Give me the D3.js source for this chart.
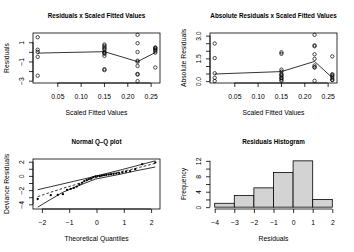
<!DOCTYPE html>
<html><head><meta charset="utf-8">
<script src="https://cdn.jsdelivr.net/npm/d3@7"></script>
<style>
body{margin:0;background:#fff}
svg{display:block}
text{font-family:"Liberation Sans",Arial,Helvetica,sans-serif;fill:#000}
</style>
</head><body><script>
// ---------- data ----------
const fittedClusters = [0.008, 0.151, 0.222, 0.260];
const residualsByCluster = [
  [1.52, 0.22, -0.01, -0.52, -2.48],
  [0.76, 0.63, 0.47, 0.35, 0.22, -0.02, -0.1, -0.2, -0.42, -1.8, -1.9],
  [1.77, 0.9, -0.02, -0.92, -1.03, -1.47, -2.3, -2.36, -3.05],
  [0.46, 0.4, 0.32, 0.2, 0.08, -0.08, -1.63]
];
const trendResiduals = [-0.13, 0.02, -1.02, -0.07];
const trendAbsResiduals = [0.47, 0.63, 1.3, 0.22];

const theoreticalQ = [-2.154,-1.676,-1.418,-1.230,-1.078,-0.947,-0.831,-0.725,-0.626,-0.534,-0.445,-0.360,-0.278,-0.197,-0.118,-0.039,
                      0.039,0.118,0.197,0.278,0.360,0.445,0.534,0.626,0.725,0.831,0.947,1.078,1.230,1.418,1.676,2.154];
const devianceResiduals = [-3.25,-2.72,-2.68,-2.58,-1.98,-1.84,-1.69,-1.5,-1.21,-0.98,-0.73,-0.56,-0.45,-0.35,-0.18,-0.08,
                           -0.04,-0.01,0.04,0.1,0.15,0.2,0.25,0.3,0.35,0.4,0.5,0.6,0.68,0.95,1.65,1.9];
const envelopeQ      = [-2.154,-1.676,-1.23,-0.831,-0.445,-0.039,0.445,0.947,1.418,2.154];
const envelopeLower  = [-4.4,-3.3,-2.3,-1.65,-1.05,-0.45,-0.08,0.3,0.7,1.25];
const envelopeMedian = [-2.92,-2.3,-1.75,-1.3,-0.8,-0.25,0.2,0.65,1.05,1.77];
const envelopeUpper  = [-1.94,-1.52,-1.12,-0.76,-0.42,-0.04,0.42,0.9,1.38,2.12];

const histBreaks = [-4,-3,-2,-1,0,1,2];
const histCounts = [1,3,5,9,12,2];

const fittedTicks = [0.05,0.10,0.15,0.20,0.25];
const fittedTickLabels = ["0.05","0.10","0.15","0.20","0.25"];
const resTicks = [-3,-2,-1,0,1];
const resTickLabels = ["\u22123","","\u22121","","1"];
const absTicks = [0,0.5,1,1.5,2,2.5,3];
const absTickLabels = ["0.0","","","1.5","","","3.0"];
const qTicks = [-2,-1,0,1,2];
const qTickLabels = ["\u22122","\u22121","0","1","2"];
const devTicks = [-4,-3,-2,-1,0,1,2];
const devTickLabels = ["\u22124","","\u22122","","0","","2"];
const histXTicks = [-4,-3,-2,-1,0,1,2];
const histXTickLabels = ["\u22124","\u22123","\u22122","\u22121","0","1","2"];
const freqTicks = [0,2,4,6,8,10,12];
const freqTickLabels = ["0","","4","","8","","12"];

// ---------- layout ----------
const W = 354, H = 252;
const box = {l:33, r:160, t:33, b:83};
const FS = 6.8, TFS = 6.3, LW = 0.8;
const svg = d3.select("body").append("svg").attr("width", W).attr("height", H);

function pad(ext){ const r = ext[1]-ext[0]; return [ext[0]-0.04*r, ext[1]+0.04*r]; }
function panel(ox, oy){ return svg.append("g").attr("transform", `translate(${ox},${oy})`); }
function drawBox(g){
  g.append("rect").attr("x",box.l).attr("y",box.t).attr("width",box.r-box.l).attr("height",box.b-box.t)
   .attr("fill","none").attr("stroke","#000").attr("stroke-width",LW);
}
function styleAxis(a){
  a.attr("font-family",null).attr("font-size",null).attr("color","#000");
  a.selectAll("line").attr("stroke","#000").attr("stroke-width",LW);
  a.select(".domain").attr("stroke","#000").attr("stroke-width",LW);
  a.selectAll("text").attr("font-size",FS).attr("fill","#000");
}
function xAxis(g, x, ticks, labels){
  const a = g.append("g").attr("transform",`translate(0,${box.b})`)
    .call(d3.axisBottom(x).tickValues(ticks).tickSizeInner(4).tickSizeOuter(0).tickFormat((d,i)=>labels[i]));
  styleAxis(a);
  a.select(".domain").attr("d",`M${x(ticks[0])},0H${x(ticks[ticks.length-1])}`);
  a.selectAll("text").attr("dy",null).attr("y",16.3);
}
function yAxis(g, y, ticks, labels){
  const a = g.append("g").attr("transform",`translate(${box.l},0)`)
    .call(d3.axisLeft(y).tickValues(ticks).tickSizeInner(4).tickSizeOuter(0).tickFormat((d,i)=>labels[i]));
  styleAxis(a);
  a.select(".domain").attr("d",`M0,${y(ticks[0])}V${y(ticks[ticks.length-1])}`);
  a.selectAll("text").attr("dy",null).attr("x",null).attr("text-anchor","middle")
    .attr("transform","translate(-9,0) rotate(-90)");
}
function labels(g, title, xlab, ylab){
  const cx = (box.l+box.r)/2, cy = (box.t+box.b)/2;
  g.append("text").attr("x",cx).attr("y",18).attr("text-anchor","middle")
    .attr("font-size",TFS).attr("font-weight","bold").text(title);
  g.append("text").attr("x",cx).attr("y",115.3).attr("text-anchor","middle")
    .attr("font-size",FS).text(xlab);
  g.append("text").attr("transform",`translate(8.6,${cy}) rotate(-90)`).attr("text-anchor","middle")
    .attr("font-size",FS).text(ylab);
}

// flatten residual points
const pts = [];
residualsByCluster.forEach((arr,i)=>arr.forEach(v=>pts.push({x:fittedClusters[i], r:v})));

const xFit = d3.scaleLinear().domain(pad(d3.extent(fittedClusters))).range([box.l, box.r]);

// ---------- Panel 1 ----------
{
  const g = panel(0,0);
  const y = d3.scaleLinear().domain(pad(d3.extent(pts, d=>d.r))).range([box.b, box.t]);
  g.append("path").datum(fittedClusters.map((x,i)=>[x,trendResiduals[i]]))
    .attr("d", d3.line().x(d=>xFit(d[0])).y(d=>y(d[1])))
    .attr("fill","none").attr("stroke","#000").attr("stroke-width",LW);
  g.selectAll("circle").data(pts).join("circle")
    .attr("cx",d=>xFit(d.x)).attr("cy",d=>y(d.r)).attr("r",1.7)
    .attr("fill","none").attr("stroke","#000").attr("stroke-width",0.7);
  drawBox(g);
  xAxis(g, xFit, fittedTicks, fittedTickLabels);
  yAxis(g, y, resTicks, resTickLabels);
  labels(g, "Residuals x Scaled Fitted Values", "Scaled Fitted Values", "Residuals");
}
// ---------- Panel 2 ----------
{
  const g = panel(177,0);
  const y = d3.scaleLinear().domain(pad([0, d3.max(pts, d=>Math.abs(d.r))])).range([box.b, box.t]);
  g.append("path").datum(fittedClusters.map((x,i)=>[x,trendAbsResiduals[i]]))
    .attr("d", d3.line().x(d=>xFit(d[0])).y(d=>y(d[1])))
    .attr("fill","none").attr("stroke","#000").attr("stroke-width",LW);
  g.selectAll("circle").data(pts).join("circle")
    .attr("cx",d=>xFit(d.x)).attr("cy",d=>y(Math.abs(d.r))).attr("r",1.7)
    .attr("fill","none").attr("stroke","#000").attr("stroke-width",0.7);
  drawBox(g);
  xAxis(g, xFit, fittedTicks, fittedTickLabels);
  yAxis(g, y, absTicks, absTickLabels);
  labels(g, "Absolute Residuals x Scaled Fitted Values", "Scaled Fitted Values", "Absolute Residuals");
}
// ---------- Panel 3 ----------
{
  const g = panel(0,126);
  const x = d3.scaleLinear().domain(pad(d3.extent(theoreticalQ))).range([box.l, box.r]);
  const allY = devianceResiduals.concat(envelopeLower, envelopeUpper);
  const y = d3.scaleLinear().domain(pad(d3.extent(allY))).range([box.b, box.t]);
  const line = d3.line().x(d=>x(d[0])).y(d=>y(d[1]));
  [[envelopeLower,null],[envelopeMedian,"2.6,2"],[envelopeUpper,null]].forEach(([arr,dash])=>{
    g.append("path").datum(envelopeQ.map((q,i)=>[q,arr[i]])).attr("d",line)
      .attr("fill","none").attr("stroke","#000").attr("stroke-width",LW).attr("stroke-dasharray",dash);
  });
  g.selectAll("circle").data(theoreticalQ).join("circle")
    .attr("cx",d=>x(d)).attr("cy",(d,i)=>y(devianceResiduals[i])).attr("r",1.15).attr("fill","#000");
  drawBox(g);
  xAxis(g, x, qTicks, qTickLabels);
  yAxis(g, y, devTicks, devTickLabels);
  labels(g, "Normal Q\u2013Q plot", "Theoretical Quantiles", "Deviance Residuals");
}
// ---------- Panel 4 ----------
{
  const g = panel(177,126);
  const x = d3.scaleLinear().domain(pad(d3.extent(histBreaks))).range([box.l, box.r]);
  const y = d3.scaleLinear().domain(pad([0, d3.max(histCounts)])).range([box.b, box.t]);
  g.selectAll("rect.bar").data(histCounts).join("rect").attr("class","bar")
    .attr("x",(d,i)=>x(histBreaks[i])).attr("width",(d,i)=>x(histBreaks[i+1])-x(histBreaks[i]))
    .attr("y",d=>y(d)).attr("height",d=>y(0)-y(d))
    .attr("fill","#d3d3d3").attr("stroke","#000").attr("stroke-width",LW);
  xAxis(g, x, histXTicks, histXTickLabels);
  yAxis(g, y, freqTicks, freqTickLabels);
  labels(g, "Residuals Histogram", "Residuals", "Frequency");
}
</script></body></html>
